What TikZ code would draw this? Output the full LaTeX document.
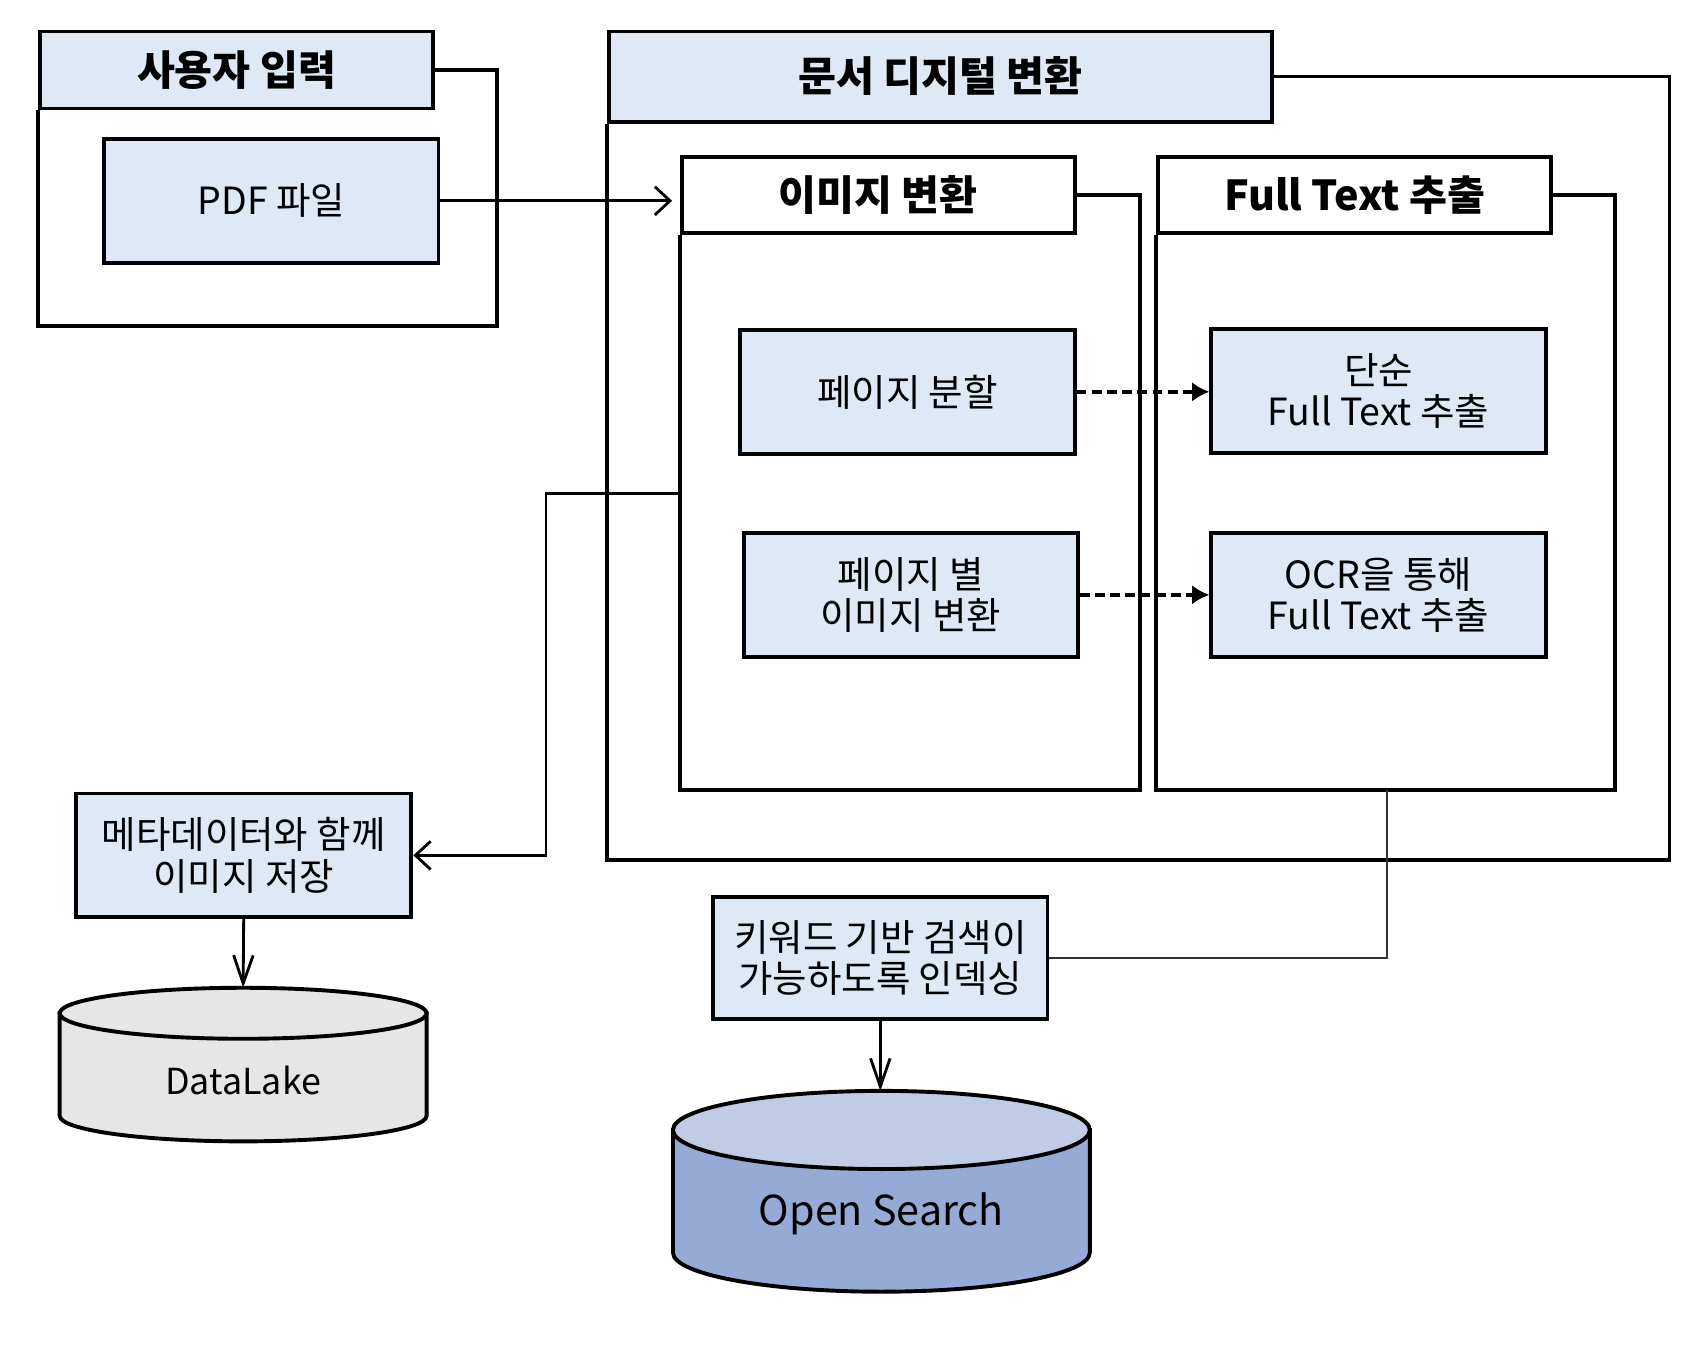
\documentclass[tikz,border=0pt]{standalone}
\usepackage{fontspec}
\setmainfont{Noto Sans CJK KR}
\usetikzlibrary{arrows.meta}
\definecolor{boxblue}{RGB}{222,233,245}
\definecolor{lakegray}{RGB}{230,230,230}
\definecolor{searchtop}{RGB}{192,204,230}
\definecolor{searchbody}{RGB}{150,170,214}

\begin{document}
\begin{tikzpicture}[x=1pt, y=-1pt,
		>={Straight Barb[length=14pt, width=26pt, line width=2.6pt]},
		bodytext/.style={font=\fontsize{34.5}{38}\selectfont},
		kasten/.style={draw, line width=3.6pt, fill=boxblue, minimum width=308pt, minimum height=114pt, align=center, bodytext},
		kopf/.style={draw, line width=3.6pt, minimum height=71pt, font=\bfseries\fontsize{38}{42}\selectfont},
		rahmen/.style={line width=3.6pt},
		pfeil/.style={->, line width=2.6pt},
		strich/.style={-{Latex[length=16pt, width=18pt]}, line width=3.2pt, dash pattern=on 9pt off 5pt},
		abwaerts/.style={-{Straight Barb[length=26pt, width=18pt, line width=2.6pt]}, line width=2.6pt},
		zylinder/.style={line width=3.6pt}]
			\useasboundingbox (0,0) rectangle (1568,1246);
			% Kopfzeilen
			\node[kopf, fill=boxblue, minimum width=362pt] (hInput) at (218,64.5) {사용자 입력};
			\node[kopf, fill=boxblue, minimum width=611pt, minimum height=83pt] (hDoc) at (866.5,70.5) {문서 디지털 변환};
			\node[kopf, fill=white, minimum width=362pt, minimum height=70pt] (hImg) at (809,180) {이미지 변환};
			\node[kopf, fill=white, minimum width=362pt, minimum height=70pt] (hTxt) at (1248,180) {Full Text 추출};
			% Rahmen
			\draw[rahmen] (hInput.east) -| (458,300) -| (hInput.south west);
			\draw[rahmen] (hDoc.east) -| (1538,792) -| (hDoc.south west);
			\draw[rahmen] (hImg.east) -| (1050,728) -| (hImg.south west);
			\draw[rahmen] (hTxt.east) -| (1488,728) -| (hTxt.south west);
			% Kaesten
			\node[kasten] (pdf) at (250,185) {PDF 파일};
			\node[kasten] (split) at (836,361) {페이지 분할};
			\node[kasten] (conv) at (839,548) {페이지 별\\이미지 변환};
			\node[kasten] (simple) at (1270,360) {단순\\Full Text 추출};
			\node[kasten] (ocr) at (1270,548) {OCR을 통해\\Full Text 추출};
			\node[kasten, minimum width=309pt] (meta) at (224.5,788) {메타데이터와 함께\\이미지 저장};
			\node[kasten, minimum height=113pt] (index) at (811,882.5) {키워드 기반 검색이\\가능하도록 인덱싱};
			% Datenspeicher
			\draw[zylinder, fill=lakegray] (55,933.5) -- (55,1028) arc[start angle=180, end angle=360, x radius=169pt, y radius=23.5pt] -- (393,933.5) -- cycle;
			\draw[zylinder, fill=lakegray] (224,933.5) ellipse[x radius=169pt, y radius=23.5pt];
			\node[font=\fontsize{33}{38}\selectfont] (lake) at (224,995) {DataLake};
			\coordinate (lakeTop) at (224,910);
			\draw[zylinder, fill=searchbody] (620,1041) -- (620,1154) arc[start angle=180, end angle=360, x radius=192pt, y radius=36pt] -- (1004,1041) -- cycle;
			\draw[zylinder, fill=searchtop] (812,1041) ellipse[x radius=192pt, y radius=36pt];
			\node[font=\fontsize{38}{44}\selectfont] (search) at (812,1118) {Open Search};
			\coordinate (searchTop) at (812,1005);
			% Verbindungen
			\coordinate (imgL) at (628,455);
			\coordinate (txtB) at (1278,728);
			\draw[pfeil, shorten >=7pt] (pdf.east) -- (pdf.east -| hImg.west);
			\draw[strich] (split.east) -- (simple.west |- split.east);
			\draw[strich] (conv.east) -- (ocr.west |- conv.east);
			\draw[pfeil] (imgL) -- ++(-125,0) |- (meta.east);
			\draw[abwaerts] (meta.south) -- (lakeTop);
			\draw[line width=1.8pt, black!80] (txtB) |- (index.east);
			\draw[abwaerts] (index.south) -- (index.south |- searchTop);
		\end{tikzpicture}
\end{document}
